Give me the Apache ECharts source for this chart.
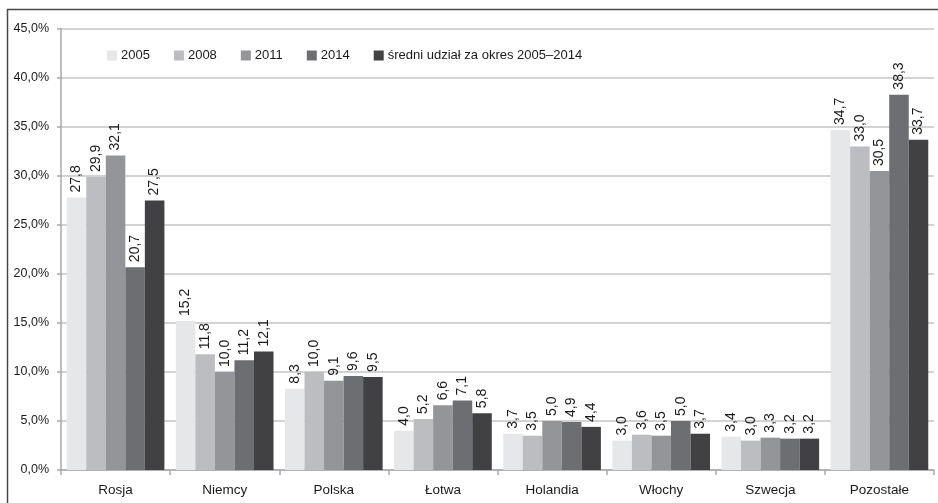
<!DOCTYPE html>
<html>
<head>
<meta charset="utf-8">
<script src="https://cdn.jsdelivr.net/npm/echarts@6/dist/echarts.min.js"></script>
<style>
  html, body { margin: 0; padding: 0; background: #fff; }
  #chart { width: 938px; height: 503px; }
</style>
</head>
<body>
<div id="chart"></div>
<script>
// dane
var kraje = ['Rosja', 'Niemcy', 'Polska', 'Łotwa', 'Holandia', 'Włochy', 'Szwecja', 'Pozostałe'];
var nazwySerii = ['2005', '2008', '2011', '2014', 'średni udział za okres 2005–2014'];
var r2005 = [27.8, 15.2, 8.3, 4.0, 3.7, 3.0, 3.4, 34.7];
var r2008 = [29.9, 11.8, 10.0, 5.2, 3.5, 3.6, 3.0, 33.0];
var r2011 = [32.1, 10.0, 9.1, 6.6, 5.0, 3.5, 3.3, 30.5];
var r2014 = [20.7, 11.2, 9.6, 7.1, 4.9, 5.0, 3.2, 38.3];
var srednia = [27.5, 12.1, 9.5, 5.8, 4.4, 3.7, 3.2, 33.7];
var kolory = ['#e6e7e8', '#bcbdc0', '#939598', '#6d6e71', '#414042'];

var font = '"Liberation Sans", Arial, sans-serif';

function fmt(v) {
    return v.toFixed(1).replace('.', ',');
}

var dane = [r2005, r2008, r2011, r2014, srednia];
var series = [];
for (var i = 0; i < dane.length; i++) {
    series.push({
        name: nazwySerii[i],
        type: 'bar',
        data: dane[i],
        barGap: '0%',
        barCategoryGap: '10.5%',
        itemStyle: { color: kolory[i] },
        label: {
            show: true,
            position: 'top',
            rotate: 90,
            align: 'left',
            verticalAlign: 'middle',
            distance: 5,
            fontFamily: font,
            fontSize: 14,
            color: '#1a1a1a',
            formatter: function (p) { return fmt(p.value); }
        }
    });
}

var myChart = echarts.init(document.getElementById('chart'));
var option = {
    backgroundColor: '#fff',
    animation: false,
    color: kolory,
    graphic: [{
        type: 'rect',
        shape: { x: 7.5, y: 9.5, width: 940, height: 510 },
        style: { fill: 'none', stroke: '#4a4a4a', lineWidth: 1.5 },
        silent: true
    }],
    legend: {
        left: 102,
        top: 44,
        itemWidth: 10,
        itemHeight: 10,
        itemGap: 24,
        icon: 'rect',
        textStyle: { fontFamily: font, fontSize: 13, color: '#1a1a1a', padding: [0, 0, 0, -1] },
        data: nazwySerii
    },
    grid: {
        left: 61,
        right: 4,
        top: 29,
        bottom: 33
    },
    xAxis: {
        type: 'category',
        data: kraje,
        axisLine: { lineStyle: { color: '#a7a9ac', width: 1.5 } },
        axisTick: { show: true, length: 5, lineStyle: { color: '#a7a9ac', width: 1.5 } },
        axisLabel: { fontFamily: font, fontSize: 13.5, color: '#1a1a1a', margin: 13 }
    },
    yAxis: {
        type: 'value',
        min: 0,
        max: 45,
        interval: 5,
        axisLine: { show: true, lineStyle: { color: '#a7a9ac', width: 1.5 } },
        axisTick: { show: true, length: 4, lineStyle: { color: '#a7a9ac', width: 1.5 } },
        splitLine: { lineStyle: { color: '#c4c5c8', width: 1.5 } },
        axisLabel: {
            fontFamily: font,
            fontSize: 12.5,
            color: '#1a1a1a',
            margin: 12,
            formatter: function (v) { return fmt(v) + '%'; }
        }
    },
    series: series
};
myChart.setOption(option);
</script>
</body>
</html>
